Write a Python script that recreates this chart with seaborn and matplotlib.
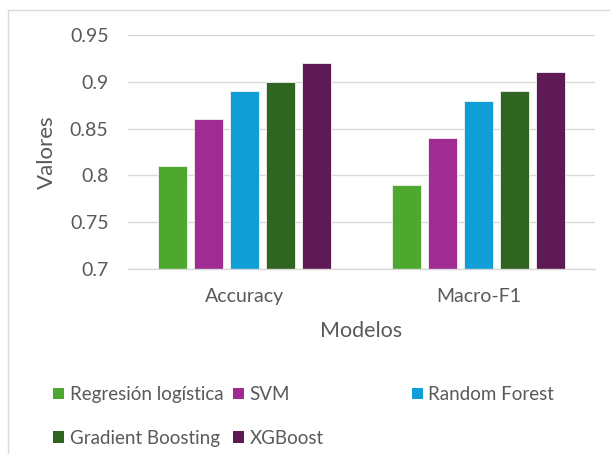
import matplotlib
matplotlib.use("Agg")
import matplotlib.pyplot as plt
import seaborn as sns
import pandas as pd
from matplotlib.patches import Patch
from matplotlib.lines import Line2D

categories = ["Accuracy", "Macro-F1"]
models = ["Regresión logística", "SVM", "Random Forest", "Gradient Boosting", "XGBoost"]
reg_log = [0.81, 0.79]
svm = [0.86, 0.84]
rf = [0.89, 0.88]
gb = [0.90, 0.89]
xgb = [0.92, 0.91]
yticks = [0.7, 0.75, 0.8, 0.85, 0.9, 0.95]
ytick_labels = ["0.7", "0.75", "0.8", "0.85", "0.9", "0.95"]
colors = ["#4EA72E", "#A02B93", "#0F9ED5", "#2F6421", "#5E1A54"]

series = [reg_log, svm, rf, gb, xgb]
rows = []
for m, vals in zip(models, series):
    for c, v in zip(categories, vals):
        rows.append({"Metrica": c, "Modelo": m, "Valor": v})
df = pd.DataFrame(rows)

sns.set_theme(style="white")
plt.rcParams["font.family"] = ["Lato", "DejaVu Sans"]

fig = plt.figure(figsize=(6.1, 4.54), dpi=100)
ax = fig.add_axes([128/610, 1-269/454, (595-128)/610, (269-35)/454])

sns.barplot(data=df, x="Metrica", y="Valor", hue="Modelo", hue_order=models,
            palette=colors, saturation=1, width=0.77, gap=0.2, ax=ax, legend=False,
            edgecolor="#f2f2f2", linewidth=0.6, errorbar=None)

ax.set_ylim(0.7, 0.95)
ax.set_yticks(yticks)
ax.set_yticklabels(ytick_labels)
ax.yaxis.grid(True, color="#d9d9d9", linewidth=1)
ax.set_axisbelow(True)
for s in ["top", "right", "left"]:
    ax.spines[s].set_visible(False)
ax.spines["bottom"].set_color("#d9d9d9")
ax.spines["bottom"].set_linewidth(1)
ax.tick_params(axis="both", length=0, colors="#595959", labelsize=14)
ax.tick_params(axis="y", pad=14)
ax.tick_params(axis="x", pad=14)
ax.set_xlabel("Modelos", fontsize=15.5, color="#595959", labelpad=11)
ax.set_ylabel("Valores", fontsize=16, color="#595959", labelpad=9)

# chart border
fig.add_artist(Line2D([8/610, 8/610], [0, 1-10/454], color="#d9d9d9", lw=1, transform=fig.transFigure))
fig.add_artist(Line2D([8/610, 1], [1-10/454, 1-10/454], color="#d9d9d9", lw=1, transform=fig.transFigure))

h = [Patch(facecolor=c, edgecolor="none") for c in colors]
leg_kw = dict(frameon=False, fontsize=13.5, labelcolor="#595959", handlelength=0.58,
              handleheight=0.58, handletextpad=0.3, labelspacing=1.42, borderpad=0, borderaxespad=0)
y0 = 1 - 386/454
fig.legend([h[0], h[3]], [models[0], models[3]], loc="upper left", bbox_to_anchor=(53/610, y0), **leg_kw)
fig.legend([h[1], h[4]], [models[1], models[4]], loc="upper left", bbox_to_anchor=(233/610, y0), **leg_kw)
fig.legend([h[2]], [models[2]], loc="upper left", bbox_to_anchor=(412/610, y0), **leg_kw)

fig.savefig("out.png", dpi=100)
